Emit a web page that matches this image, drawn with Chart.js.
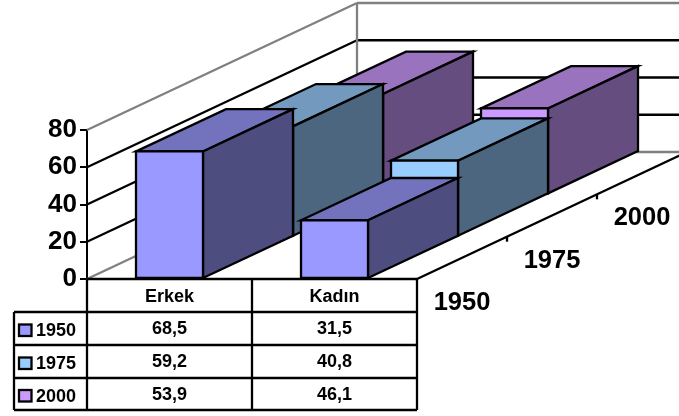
<!DOCTYPE html>
<html>
<head>
<meta charset="utf-8">
<style>
  html, body { margin: 0; padding: 0; background: #fff; }
  canvas { display: block; }
</style>
<script src="https://cdn.jsdelivr.net/npm/chart.js@4"></script>
</head>
<body>
<canvas id="chart" width="679" height="416"></canvas>
<script>
const categories = ['Erkek', 'Kadın'];
const seriesNames = ['1950', '1975', '2000'];
const values1950 = [68.5, 31.5];
const values1975 = [59.2, 40.8];
const values2000 = [53.9, 46.1];
const yTicks = [0, 20, 40, 60, 80];

const frontColors = ['#9999ff', '#99ccff', '#cc99ff'];
const sideColors = ['#4d4d80', '#4d6680', '#664d80'];
const topColors = ['#7373bd', '#7399bf', '#9973bd'];

const depthX = 270, depthY = -127; // vector oblique do piso inteiro
const rowLines = [312, 345, 378, 410];
const tableLeft = 14;
const font = size => `bold ${size}px "Liberation Sans", Arial, sans-serif`;

function polygon(ctx, points, fill) {
    ctx.beginPath();
    points.forEach((p, i) => i ? ctx.lineTo(p[0], p[1]) : ctx.moveTo(p[0], p[1]));
    ctx.closePath();
    if (fill) {
        ctx.fillStyle = fill;
        ctx.fill();
    }
    ctx.stroke();
}

function line(ctx, x1, y1, x2, y2, color) {
    ctx.strokeStyle = color || '#000';
    ctx.beginPath();
    ctx.moveTo(x1, y1);
    ctx.lineTo(x2, y2);
    ctx.stroke();
}

function drawWalls(chart, ctx) {
    const { left, right, bottom } = chart.chartArea;
    const y = chart.scales.y;
    yTicks.forEach(v => {
        const py = y.getPixelForValue(v);
        const color = (v === 0 || v === 80) ? '#808080' : '#000';
        line(ctx, left, py, left + depthX, py + depthY, color);
        line(ctx, left + depthX, py + depthY, right + depthX, py + depthY, color);
    });
    const topY = y.getPixelForValue(80) + depthY;
    line(ctx, left + depthX, topY, left + depthX, bottom + depthY, '#808080');

    // borda direita do piso, com as marcas entre as séries
    line(ctx, right, bottom, right + depthX, bottom + depthY);
    [1, 2].forEach(i => {
        const tx = right + depthX * i / 3, ty = bottom + depthY * i / 3;
        line(ctx, tx, ty, tx, ty + 5);
    });
    ctx.fillStyle = '#000';
    ctx.font = font(25.5);
    ctx.textAlign = 'center';
    ctx.textBaseline = 'middle';
    seriesNames.forEach((name, i) => {
        const f = (i + 0.5) / 3;
        ctx.fillText(name, right + depthX * f, bottom + depthY * f + 45);
    });
}

function drawBars(chart, ctx) {
    const stepX = depthX / seriesNames.length, stepY = depthY / seriesNames.length;
    ctx.strokeStyle = '#000';
    for (let s = seriesNames.length - 1; s >= 0; s--) {
        chart.getDatasetMeta(s).data.forEach(bar => {
            const l = bar.x - bar.width / 2 + stepX * s;
            const r = bar.x + bar.width / 2 + stepX * s;
            const t = bar.y + stepY * s;
            const b = bar.base + stepY * s;
            polygon(ctx, [[l, t], [r, t], [r + stepX, t + stepY], [l + stepX, t + stepY]], topColors[s]);
            polygon(ctx, [[r, t], [r + stepX, t + stepY], [r + stepX, b + stepY], [r, b]], sideColors[s]);
            polygon(ctx, [[l, t], [r, t], [r, b], [l, b]], frontColors[s]);
        });
    }
}

function drawTable(chart, ctx) {
    const { left, right, bottom } = chart.chartArea;
    const x = chart.scales.x;
    const colEdge = (x.getPixelForValue(0) + x.getPixelForValue(1)) / 2;
    const last = rowLines[rowLines.length - 1];
    ctx.strokeStyle = '#000';
    line(ctx, left, bottom, right, bottom);
    rowLines.forEach(py => line(ctx, tableLeft, py, right, py));
    [left, colEdge, right].forEach(px => line(ctx, px, bottom, px, last));
    line(ctx, tableLeft, rowLines[0], tableLeft, last);

    ctx.textBaseline = 'middle';
    seriesNames.forEach((name, s) => {
        const mid = (rowLines[s] + rowLines[s + 1]) / 2;
        ctx.fillStyle = frontColors[s];
        ctx.fillRect(19, mid - 4, 12.5, 11.5);
        ctx.strokeRect(19, mid - 4, 12.5, 11.5);
        ctx.fillStyle = '#000';
        ctx.font = font(18);
        ctx.textAlign = 'left';
        ctx.fillText(name, 36, mid + 3);
        chart.data.datasets[s].data.forEach((v, c) => {
            ctx.textAlign = 'center';
            ctx.fillText(v.toFixed(1).replace('.', ','), x.getPixelForValue(c), mid + 1);
        });
    });
}

const bar3d = {
    id: 'bar3d',
    beforeDatasetsDraw(chart) {
        const ctx = chart.ctx;
        ctx.save();
        ctx.lineWidth = 2.3;
        ctx.lineJoin = 'miter';
        drawWalls(chart, ctx);
        drawBars(chart, ctx);
        drawTable(chart, ctx);
        ctx.restore();
        return false; // as barras planas não são desenhadas
    }
};

new Chart(document.getElementById('chart'), {
    type: 'bar',
    data: {
        labels: categories,
        datasets: [
            { label: seriesNames[0], data: values1950, backgroundColor: frontColors[0] },
            { label: seriesNames[1], data: values1975, backgroundColor: frontColors[1] },
            { label: seriesNames[2], data: values2000, backgroundColor: frontColors[2] }
        ]
    },
    options: {
        responsive: false,
        animation: false,
        layout: { padding: { top: 130, right: 262, left: 0, bottom: 0 } },
        plugins: { legend: { display: false }, tooltip: { enabled: false } },
        datasets: { bar: { grouped: false, categoryPercentage: 1, barPercentage: 0.406 } },
        scales: {
            x: {
                grid: { display: false, drawTicks: false },
                border: { display: false },
                ticks: { color: '#000', font: { family: '"Liberation Sans", Arial, sans-serif', size: 18, weight: 'bold' }, padding: 7, maxRotation: 0 },
                afterFit: s => { s.height = 137; }
            },
            y: {
                min: 0,
                max: 80,
                grid: { drawOnChartArea: false, color: '#000', lineWidth: 2, tickLength: 7 },
                border: { display: true, color: '#000', width: 2 },
                ticks: { stepSize: 20, color: '#000', font: { family: '"Liberation Sans", Arial, sans-serif', size: 26, weight: 'bold' }, padding: 3 },
                afterFit: s => { s.width = 87; }
            }
        }
    },
    plugins: [bar3d]
});
</script>
</body>
</html>
